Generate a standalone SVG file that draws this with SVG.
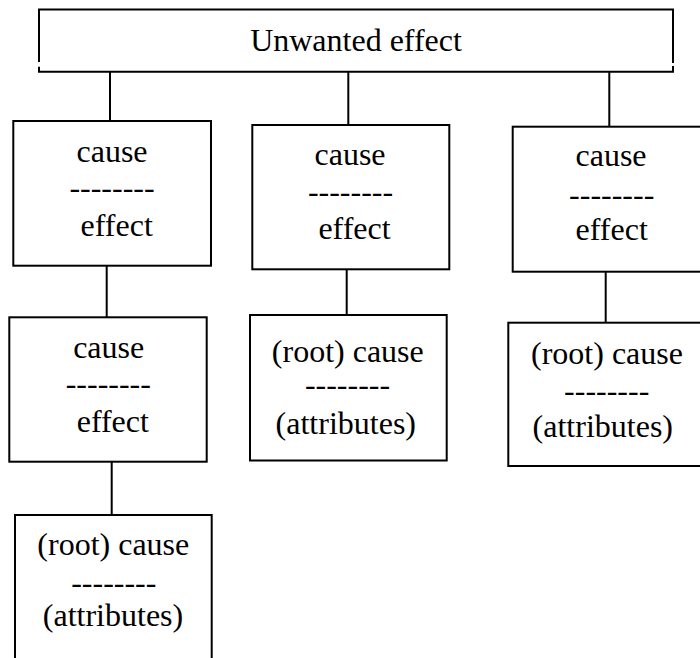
<svg xmlns="http://www.w3.org/2000/svg" width="700" height="658" viewBox="0 0 700 658">
<style>
.box{fill:#fff;stroke:#000;stroke-width:2}
.ln{stroke:#000;stroke-width:2;fill:none}
text{font-family:"Liberation Serif","Times New Roman",serif;font-size:32px;fill:#000;text-anchor:middle}
</style>
<rect width="700" height="658" fill="#fff"/>
<g id="connectors">
<line class="ln" x1="110" y1="71.7" x2="110" y2="121"/>
<line class="ln" x1="348.3" y1="71.7" x2="348.3" y2="125"/>
<line class="ln" x1="609.3" y1="71.7" x2="609.3" y2="126.7"/>
<line class="ln" x1="106.7" y1="265.7" x2="106.7" y2="317.3"/>
<line class="ln" x1="346.7" y1="269.3" x2="346.7" y2="315"/>
<line class="ln" x1="605.7" y1="271.7" x2="605.7" y2="322.7"/>
<line class="ln" x1="111.7" y1="461.7" x2="111.7" y2="515"/>
</g>
<g id="top">
<path class="ln" d="M39,62 V9.5 H673 V63 M673,66 V71.7 H39 V66.7"/>
<text x="356" y="51">Unwanted effect</text>
</g>
<g id="boxA">
<rect class="box" x="13.3" y="121" width="197.7" height="144.7"/>
<text x="112" y="161.7">cause</text>
<text x="112" y="197.5">--------</text>
<text x="116.7" y="235.5">effect</text>
</g>
<g id="boxB">
<rect class="box" x="252.3" y="125" width="197" height="144.3"/>
<text x="350" y="165">cause</text>
<text x="350.5" y="201.5">--------</text>
<text x="354.5" y="239">effect</text>
</g>
<g id="boxC">
<rect class="box" x="512.7" y="126.7" width="190" height="145"/>
<text x="611" y="166">cause</text>
<text x="611.7" y="204.8">--------</text>
<text x="611.7" y="240">effect</text>
</g>
<g id="boxD">
<rect class="box" x="9.3" y="317.3" width="197.4" height="144.4"/>
<text x="108.7" y="358">cause</text>
<text x="108.3" y="394">--------</text>
<text x="112.8" y="431.5">effect</text>
</g>
<g id="boxE">
<rect class="box" x="250" y="315" width="196.7" height="145.5"/>
<text x="347.8" y="361.7">(root) cause</text>
<text x="347.5" y="394.8">--------</text>
<text x="345.8" y="434">(attributes)</text>
</g>
<g id="boxF">
<rect class="box" x="508.3" y="322.7" width="194" height="143.3"/>
<text x="607" y="363.5">(root) cause</text>
<text x="606.7" y="400.8">--------</text>
<text x="602.8" y="437">(attributes)</text>
</g>
<g id="boxG">
<rect class="box" x="15" y="515" width="196.7" height="160"/>
<text x="113.3" y="555">(root) cause</text>
<text x="113.8" y="593">--------</text>
<text x="113" y="626">(attributes)</text>
</g>
</svg>
